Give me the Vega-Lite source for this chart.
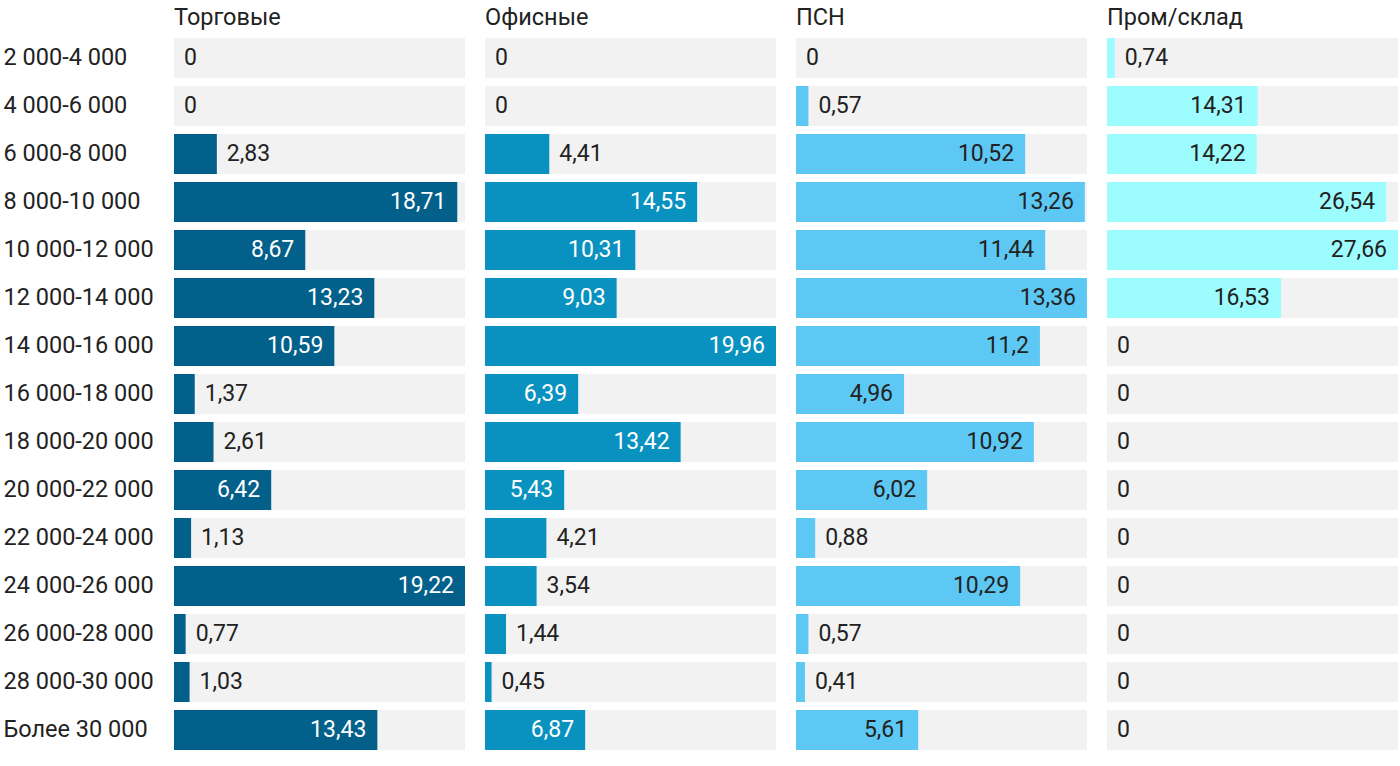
{
  "$schema": "https://vega.github.io/schema/vega-lite/v6.json",
  "padding": {"left": 3, "top": 5, "right": 0, "bottom": 0},
  "background": "white",
  "config": {
    "font": "Roboto",
    "locale": {"number": {"decimal": ",", "thousands": " ", "grouping": [3], "currency": ["", " ₽"]}},
    "view": {"stroke": null}
  },
  "data": {"values": [
    {"cat": "Торговые", "r": "2 000-4 000", "v": 0},
    {"cat": "Торговые", "r": "4 000-6 000", "v": 0},
    {"cat": "Торговые", "r": "6 000-8 000", "v": 2.83},
    {"cat": "Торговые", "r": "8 000-10 000", "v": 18.71},
    {"cat": "Торговые", "r": "10 000-12 000", "v": 8.67},
    {"cat": "Торговые", "r": "12 000-14 000", "v": 13.23},
    {"cat": "Торговые", "r": "14 000-16 000", "v": 10.59},
    {"cat": "Торговые", "r": "16 000-18 000", "v": 1.37},
    {"cat": "Торговые", "r": "18 000-20 000", "v": 2.61},
    {"cat": "Торговые", "r": "20 000-22 000", "v": 6.42},
    {"cat": "Торговые", "r": "22 000-24 000", "v": 1.13},
    {"cat": "Торговые", "r": "24 000-26 000", "v": 19.22},
    {"cat": "Торговые", "r": "26 000-28 000", "v": 0.77},
    {"cat": "Торговые", "r": "28 000-30 000", "v": 1.03},
    {"cat": "Торговые", "r": "Более 30 000", "v": 13.43},
    {"cat": "Офисные", "r": "2 000-4 000", "v": 0},
    {"cat": "Офисные", "r": "4 000-6 000", "v": 0},
    {"cat": "Офисные", "r": "6 000-8 000", "v": 4.41},
    {"cat": "Офисные", "r": "8 000-10 000", "v": 14.55},
    {"cat": "Офисные", "r": "10 000-12 000", "v": 10.31},
    {"cat": "Офисные", "r": "12 000-14 000", "v": 9.03},
    {"cat": "Офисные", "r": "14 000-16 000", "v": 19.96},
    {"cat": "Офисные", "r": "16 000-18 000", "v": 6.39},
    {"cat": "Офисные", "r": "18 000-20 000", "v": 13.42},
    {"cat": "Офисные", "r": "20 000-22 000", "v": 5.43},
    {"cat": "Офисные", "r": "22 000-24 000", "v": 4.21},
    {"cat": "Офисные", "r": "24 000-26 000", "v": 3.54},
    {"cat": "Офисные", "r": "26 000-28 000", "v": 1.44},
    {"cat": "Офисные", "r": "28 000-30 000", "v": 0.45},
    {"cat": "Офисные", "r": "Более 30 000", "v": 6.87},
    {"cat": "ПСН", "r": "2 000-4 000", "v": 0},
    {"cat": "ПСН", "r": "4 000-6 000", "v": 0.57},
    {"cat": "ПСН", "r": "6 000-8 000", "v": 10.52},
    {"cat": "ПСН", "r": "8 000-10 000", "v": 13.26},
    {"cat": "ПСН", "r": "10 000-12 000", "v": 11.44},
    {"cat": "ПСН", "r": "12 000-14 000", "v": 13.36},
    {"cat": "ПСН", "r": "14 000-16 000", "v": 11.2},
    {"cat": "ПСН", "r": "16 000-18 000", "v": 4.96},
    {"cat": "ПСН", "r": "18 000-20 000", "v": 10.92},
    {"cat": "ПСН", "r": "20 000-22 000", "v": 6.02},
    {"cat": "ПСН", "r": "22 000-24 000", "v": 0.88},
    {"cat": "ПСН", "r": "24 000-26 000", "v": 10.29},
    {"cat": "ПСН", "r": "26 000-28 000", "v": 0.57},
    {"cat": "ПСН", "r": "28 000-30 000", "v": 0.41},
    {"cat": "ПСН", "r": "Более 30 000", "v": 5.61},
    {"cat": "Пром/склад", "r": "2 000-4 000", "v": 0.74},
    {"cat": "Пром/склад", "r": "4 000-6 000", "v": 14.31},
    {"cat": "Пром/склад", "r": "6 000-8 000", "v": 14.22},
    {"cat": "Пром/склад", "r": "8 000-10 000", "v": 26.54},
    {"cat": "Пром/склад", "r": "10 000-12 000", "v": 27.66},
    {"cat": "Пром/склад", "r": "12 000-14 000", "v": 16.53},
    {"cat": "Пром/склад", "r": "14 000-16 000", "v": 0},
    {"cat": "Пром/склад", "r": "16 000-18 000", "v": 0},
    {"cat": "Пром/склад", "r": "18 000-20 000", "v": 0},
    {"cat": "Пром/склад", "r": "20 000-22 000", "v": 0},
    {"cat": "Пром/склад", "r": "22 000-24 000", "v": 0},
    {"cat": "Пром/склад", "r": "24 000-26 000", "v": 0},
    {"cat": "Пром/склад", "r": "26 000-28 000", "v": 0},
    {"cat": "Пром/склад", "r": "28 000-30 000", "v": 0},
    {"cat": "Пром/склад", "r": "Более 30 000", "v": 0}
  ]},
  "transform": [
    {"joinaggregate": [{"op": "max", "field": "v", "as": "mx"}], "groupby": ["cat"]}
  ],
  "facet": {
    "column": {
      "field": "cat",
      "type": "nominal",
      "sort": ["Торговые", "Офисные", "ПСН", "Пром/склад"],
      "header": {"title": null, "labelAnchor": "start", "labelAlign": "left", "labelFontSize": 23.5, "labelColor": "#222", "labelPadding": 5}
    }
  },
  "spacing": 20,
  "resolve": {"scale": {"x": "independent"}},
  "spec": {
    "width": 291,
    "height": 720,
    "encoding": {
      "y": {
        "field": "r",
        "type": "nominal",
        "sort": ["2 000-4 000", "4 000-6 000", "6 000-8 000", "8 000-10 000", "10 000-12 000", "12 000-14 000", "14 000-16 000", "16 000-18 000", "18 000-20 000", "20 000-22 000", "22 000-24 000", "24 000-26 000", "26 000-28 000", "28 000-30 000", "Более 30 000"],
        "scale": {"paddingInner": 0.1667, "paddingOuter": 0.0833},
        "axis": {"title": null, "domain": false, "ticks": false, "tickSize": 0, "labelAlign": "left", "labelPadding": 171, "labelFontSize": 23.5, "labelColor": "#222", "labelLimit": 0}
      }
    },
    "layer": [
      {
        "mark": {"type": "bar", "color": "#f2f2f2"},
        "encoding": {"x": {"field": "mx", "type": "quantitative", "axis": null, "scale": {"nice": false, "zero": true}}}
      },
      {
        "mark": {"type": "bar"},
        "encoding": {
          "x": {"field": "v", "type": "quantitative", "axis": null},
          "color": {"field": "cat", "type": "nominal", "legend": null, "scale": {"domain": ["Торговые", "Офисные", "ПСН", "Пром/склад"], "range": ["#03608a", "#0992bf", "#5ec8f5", "#9dfcfd"]}}
        }
      },
      {
        "transform": [{"filter": "datum.v >= 0.25 * datum.mx"}],
        "mark": {"type": "text", "align": "right", "baseline": "middle", "dx": -11, "fontSize": 23},
        "encoding": {
          "x": {"field": "v", "type": "quantitative", "axis": null},
          "text": {"field": "v", "type": "quantitative", "format": ".2~f"},
          "color": {"condition": {"test": "datum.cat === 'Торговые' || datum.cat === 'Офисные'", "value": "#ffffff"}, "value": "#222222"}
        }
      },
      {
        "transform": [{"filter": "datum.v < 0.25 * datum.mx"}],
        "mark": {"type": "text", "align": "left", "baseline": "middle", "dx": 10, "fontSize": 23, "color": "#222222"},
        "encoding": {
          "x": {"field": "v", "type": "quantitative", "axis": null},
          "text": {"field": "v", "type": "quantitative", "format": ".2~f"}
        }
      }
    ]
  }
}
